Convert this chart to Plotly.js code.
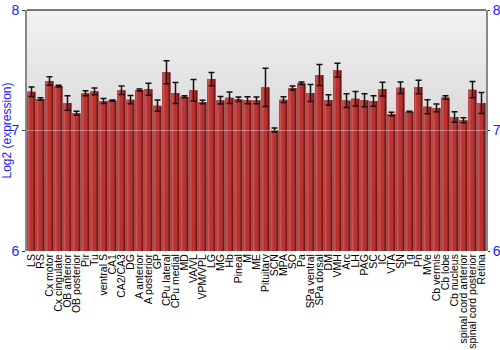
<!DOCTYPE html>
<html>
<head>
<meta charset="utf-8">
<script src="https://cdn.plot.ly/plotly-3.0.1.min.js"></script>
<style>
  html, body { margin: 0; padding: 0; background: #ffffff; }
  #chart { width: 500px; height: 350px; }
</style>
</head>
<body>
<div id="chart"></div>
<script>
// Brain regions (and a few other tissues) along the x axis
const regions = [
  "LS", "RS", "Cx motor", "Cx cingulate", "OB anterior", "OB posterior", "Pir", "Tu",
  "ventral S", "CA1", "CA2/CA3", "DG", "A anterior", "A posterior", "GP", "CPu lateral",
  "CPu medial", "MD", "VA/VL", "VPM/VPL", "LG", "MG", "Hb", "Pineal", "M", "ME",
  "Pituitary", "SCN", "MPA", "SO", "Pa", "SPa ventral", "SPa dorsal", "DM", "VMH", "Arc",
  "LH", "PAG", "SC", "IC", "VTA", "SN", "Tg", "Pn", "MVe", "Cb vermis", "Cb lobe",
  "Cb nucleus", "spinal cord anterior", "spinal cord posterior", "Retina"
];

// Mean log2 expression per region
const expression = [
  7.322, 7.261, 7.411, 7.369, 7.228, 7.143, 7.309, 7.325,
  7.245, 7.248, 7.334, 7.256, 7.336, 7.342, 7.206, 7.483,
  7.311, 7.280, 7.334, 7.237, 7.427, 7.251, 7.272, 7.259, 7.251, 7.251,
  7.358, 7.004, 7.256, 7.353, 7.392, 7.311, 7.461, 7.253, 7.500, 7.248,
  7.264, 7.251, 7.245, 7.344, 7.137, 7.355, 7.156, 7.361, 7.198, 7.187, 7.274,
  7.112, 7.085, 7.339, 7.228
];

// Standard error per region
const stdError = [
  0.040, 0.010, 0.035, 0.007, 0.060, 0.017, 0.020, 0.028,
  0.020, 0.005, 0.035, 0.035, 0.008, 0.050, 0.047, 0.095,
  0.087, 0.008, 0.090, 0.014, 0.055, 0.032, 0.047, 0.018, 0.030, 0.028,
  0.158, 0.017, 0.024, 0.017, 0.010, 0.070, 0.087, 0.044, 0.058, 0.058,
  0.060, 0.054, 0.043, 0.057, 0.015, 0.047, 0.003, 0.055, 0.058, 0.032, 0.014,
  0.044, 0.020, 0.068, 0.087
];

const yTicks = [6, 7, 8];
const yRange = [6, 8];

const blue = "#1a1aff";

// Shaded bars: a dark body with a lighter face and a thin highlight on the left
const body = {
  type: "bar", x: regions, y: expression,
  width: 0.92,
  marker: { color: "#761717", line: { width: 0 } },
  hoverinfo: "skip", showlegend: false
};
const face = {
  type: "bar", x: regions, y: expression,
  width: 0.68, offset: -0.46,
  marker: { color: "#b83232", line: { width: 0 } },
  hoverinfo: "skip", showlegend: false
};
const shine = {
  type: "bar", x: regions, y: expression,
  width: 0.2, offset: -0.42,
  marker: { color: "#c95250", line: { width: 0 } },
  hoverinfo: "skip", showlegend: false
};
// Error bars drawn on an invisible trace at the bar centres
const errors = {
  type: "scatter", mode: "markers", x: regions, y: expression,
  marker: { size: 1, color: "rgba(0,0,0,0)" },
  error_y: { type: "data", array: stdError, visible: true, color: "#111111", thickness: 1.5, width: 3 },
  hoverinfo: "skip", showlegend: false
};
// Placeholder on the right-hand axis so it is drawn
const rightAxis = {
  type: "scatter", mode: "markers", x: [regions[0]], y: [7], yaxis: "y2",
  marker: { size: 1, color: "rgba(0,0,0,0)" },
  hoverinfo: "skip", showlegend: false
};

const gradientSvg =
  "<svg xmlns='http://www.w3.org/2000/svg' width='10' height='100' preserveAspectRatio='none'>" +
  "<defs><linearGradient id='g' x1='0' y1='0' x2='0' y2='1'>" +
  "<stop offset='0' stop-color='#f2f2f2'/><stop offset='1' stop-color='#bfbfbf'/>" +
  "</linearGradient></defs><rect width='10' height='100' fill='url(#g)'/></svg>";

const layout = {
  width: 500, height: 350,
  margin: { l: 27, r: 14, t: 10, b: 99, autoexpand: false },
  paper_bgcolor: "#ffffff",
  plot_bgcolor: "rgba(0,0,0,0)",
  barmode: "overlay",
  font: { family: "Liberation Sans, Arial, sans-serif", color: "#000000" },
  xaxis: {
    type: "category",
    tickmode: "array", tickvals: regions, ticktext: regions,
    tickangle: -90,
    tickfont: { size: 10.5, color: "#000000" },
    ticks: "", showline: false, showgrid: false, zeroline: false,
    automargin: false,
    range: [-0.5, regions.length - 0.5]
  },
  yaxis: {
    range: yRange, tickvals: yTicks, ticktext: yTicks.map(String),
    tickfont: { size: 14, color: blue },
    ticks: "outside", ticklen: 3, tickcolor: "#333333", tickwidth: 1,
    showline: true, linecolor: "#888888", linewidth: 2,
    showgrid: false, zeroline: false, automargin: false,
    title: { text: "Log2 (expression)", font: { size: 12, color: blue } }
  },
  yaxis2: {
    overlaying: "y", side: "right",
    range: yRange, tickvals: yTicks, ticktext: yTicks.map(String),
    tickfont: { size: 14, color: blue },
    ticks: "outside", ticklen: 2, tickcolor: "#333333", tickwidth: 1,
    showline: true, linecolor: "#888888", linewidth: 2,
    showgrid: false, zeroline: false, automargin: false
  },
  images: [{
    source: "data:image/svg+xml;charset=utf-8," + encodeURIComponent(gradientSvg),
    xref: "paper", yref: "paper", x: 0, y: 1, sizex: 1, sizey: 1,
    sizing: "stretch", layer: "below", xanchor: "left", yanchor: "top"
  }],
  shapes: [
    { type: "line", xref: "paper", yref: "paper", x0: 0, x1: 1, y0: 1, y1: 1,
      line: { color: "#777777", width: 2 } },
    { type: "line", xref: "paper", yref: "y", x0: 0, x1: 1, y0: 7, y1: 7,
      layer: "above", line: { color: "rgba(255,255,255,0.35)", width: 1 } }
  ]
};

Plotly.newPlot("chart", [body, face, shine, errors, rightAxis], layout,
  { staticPlot: true, displayModeBar: false });
</script>
</body>
</html>
